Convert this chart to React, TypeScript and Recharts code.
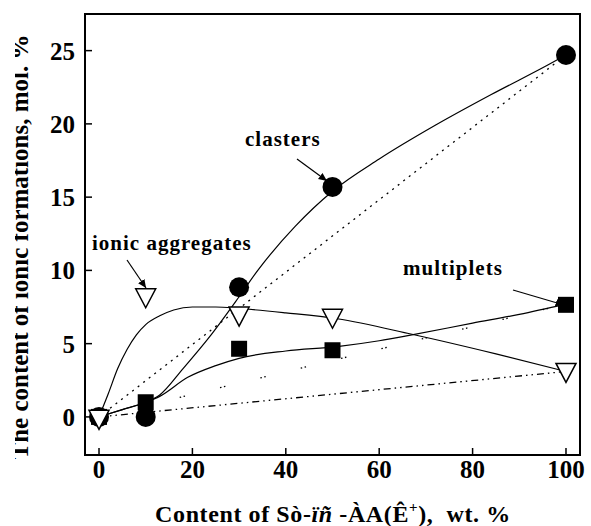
import React from 'react';
import { LineChart, Line, XAxis, YAxis, ReferenceArea } from 'recharts';

// Measured points (content, wt. %)
const contentWt = [0, 10, 30, 50, 100];
const clasters = [0, 0, 8.85, 15.7, 24.7];
const multiplets = [0, 1.0, 4.65, 4.55, 7.65];
const ionicAggregates = [-0.2, 8.1, 6.85, 6.7, 3.0];

// Smooth fitted curves
const clastersFitX = [0, 5, 10, 13, 18, 24, 30, 34, 42, 50, 60, 72, 84, 96, 100];
const clastersFitY = [0, 0.5, 1.0, 1.5, 3.3, 5.6, 8.2, 10.0, 13.0, 15.4, 17.6, 19.9, 22.0, 24.0, 24.7];

const multipletsFitX = [0, 5, 10, 13, 19, 25, 30, 40, 51, 60, 67, 80, 90, 100];
const multipletsFitY = [0, 0.5, 1.0, 1.4, 2.7, 3.5, 4.0, 4.5, 4.8, 5.2, 5.6, 6.4, 7.0, 7.7];

const ionicFitX = [0, 2, 4, 6, 8, 10, 13, 16, 20, 25, 30, 40, 51, 67, 85, 100];
const ionicFitY = [0, 1.6, 3.3, 4.6, 5.6, 6.3, 6.9, 7.3, 7.5, 7.5, 7.4, 7.1, 6.7, 5.64, 4.3, 3.1];

// Straight reference lines
const linearX = [0, 100];
const clastersLinearY = [0, 24.7];
const multipletsLinearY = [0, 7.7];
const ionicLinearY = [0, 3.1];

const xTicks = [0, 20, 40, 60, 80, 100];
const yTicks = [0, 5, 10, 15, 20, 25];

const xDomain = [-3, 103];
const yDomain = [-2.6, 27.5];

const yAxisTitle = 'The content of ionic formations, mol. %';
const clastersLabel = 'clasters';
const ionicLabel = 'ionic aggregates';
const multipletsLabel = 'multiplets';

const zip = (xs: number[], ys: number[]) => xs.map((x, i) => ({ x, y: ys[i] }));

const FONT = '"Liberation Serif", "Times New Roman", serif';

const CircleDot = (p: any) => (
  <circle key={`c${p.index}`} cx={p.cx} cy={p.cy} r={10} fill="#000" />
);
const SquareDot = (p: any) => (
  <rect key={`s${p.index}`} x={p.cx - 8} y={p.cy - 8} width={16} height={16} fill="#000" />
);
const TriangleDot = (p: any) => (
  <path
    key={`t${p.index}`}
    d={`M${p.cx - 10},${p.cy - 9.5}L${p.cx + 10},${p.cy - 9.5}L${p.cx},${p.cy + 9.5}Z`}
    fill="#fff"
    stroke="#000"
    strokeWidth={1.5}
  />
);

const tickStyle = { fill: '#000', fontSize: 25, fontWeight: 'bold', fontFamily: FONT };

export default function App() {
  return (
    <div style={{ position: 'absolute', left: 0, top: 0, width: 591, height: 526, background: '#fff' }}>
      <LineChart width={591} height={526} margin={{ top: 14, right: 11, left: 0, bottom: 0 }}>
        <XAxis
          type="number"
          dataKey="x"
          domain={xDomain}
          ticks={xTicks}
          interval={0}
          allowDataOverflow
          height={71}
          axisLine={false}
          tickSize={-7}
          tickMargin={12}
          tickLine={{ stroke: '#000', strokeWidth: 1.5 }}
          tick={tickStyle}
        />
        <YAxis
          type="number"
          domain={yDomain}
          ticks={yTicks}
          interval={0}
          allowDataOverflow
          width={85}
          axisLine={false}
          tickSize={-7}
          tickMargin={17}
          tickLine={{ stroke: '#000', strokeWidth: 1.5 }}
          tick={tickStyle}
        />
        <ReferenceArea
          x1={xDomain[0]}
          x2={xDomain[1]}
          y1={yDomain[0]}
          y2={yDomain[1]}
          fill="none"
          fillOpacity={0}
          stroke="#000"
          strokeWidth={2}
          ifOverflow="visible"
        />
        <Line data={zip(linearX, clastersLinearY)} dataKey="y" type="linear" stroke="#000" strokeWidth={1.3} strokeDasharray="2 5" dot={false} activeDot={false} isAnimationActive={false} />
        <Line data={zip(linearX, multipletsLinearY)} dataKey="y" type="linear" stroke="#000" strokeWidth={1.3} strokeDasharray="1.5 2.5 1.5 36" dot={false} activeDot={false} isAnimationActive={false} />
        <Line data={zip(linearX, ionicLinearY)} dataKey="y" type="linear" stroke="#000" strokeWidth={1.3} strokeDasharray="7 4 1.5 4 1.5 4" dot={false} activeDot={false} isAnimationActive={false} />
        <Line data={zip(clastersFitX, clastersFitY)} dataKey="y" type="monotone" stroke="#000" strokeWidth={1.2} dot={false} activeDot={false} isAnimationActive={false} />
        <Line data={zip(multipletsFitX, multipletsFitY)} dataKey="y" type="monotone" stroke="#000" strokeWidth={1.2} dot={false} activeDot={false} isAnimationActive={false} />
        <Line data={zip(ionicFitX, ionicFitY)} dataKey="y" type="monotone" stroke="#000" strokeWidth={1.2} dot={false} activeDot={false} isAnimationActive={false} />
        <Line data={zip(contentWt, clasters)} dataKey="y" stroke="none" dot={CircleDot} activeDot={false} isAnimationActive={false} />
        <Line data={zip(contentWt, multiplets)} dataKey="y" stroke="none" dot={SquareDot} activeDot={false} isAnimationActive={false} />
        <Line data={zip(contentWt, ionicAggregates)} dataKey="y" stroke="none" dot={TriangleDot} activeDot={false} isAnimationActive={false} />
      </LineChart>
      <svg width={591} height={526} style={{ position: 'absolute', left: 0, top: 0, pointerEvents: 'none' }}>
        <defs>
          <marker id="arrowHead" viewBox="0 0 10 10" refX="10" refY="5" markerWidth="7" markerHeight="7" orient="auto">
            <path d="M0,0.5 L10,5 L0,9.5 z" fill="#000" />
          </marker>
          <clipPath id="yTitleClip">
            <rect x={15} y={0} width={60} height={526} />
          </clipPath>
        </defs>
        <g clipPath="url(#yTitleClip)">
          <text
            transform="translate(28,247) rotate(-90)"
            textAnchor="middle"
            fontFamily={FONT}
            fontWeight="bold"
            fontSize={25}
            fill="#000"
          >
            {yAxisTitle}
          </text>
        </g>
        <text x={333} y={522} textAnchor="middle" fontFamily={FONT} fontWeight="bold" fontSize={24} letterSpacing={0.6} fill="#000">
          Content of Sò-<tspan fontStyle="italic">ïñ</tspan> -ÀA(Ê<tspan dy={-10} fontSize={15}>+</tspan><tspan dy={10}>{'),\u00a0 wt. %'}</tspan>
        </text>
        <text x={245} y={146} fontFamily={FONT} fontWeight="bold" fontSize={21} letterSpacing={1} fill="#000">{clastersLabel}</text>
        <line x1={297} y1={159} x2={327} y2={181} stroke="#000" strokeWidth={1.2} markerEnd="url(#arrowHead)" />
        <text x={92} y={250} fontFamily={FONT} fontWeight="bold" fontSize={21} letterSpacing={1} fill="#000">{ionicLabel}</text>
        <line x1={127} y1={260} x2={146} y2={288} stroke="#000" strokeWidth={1.2} markerEnd="url(#arrowHead)" />
        <text x={403} y={275} fontFamily={FONT} fontWeight="bold" fontSize={21} letterSpacing={1} fill="#000">{multipletsLabel}</text>
        <line x1={513} y1={290} x2={564} y2={305} stroke="#000" strokeWidth={1.2} markerEnd="url(#arrowHead)" />
      </svg>
    </div>
  );
}
